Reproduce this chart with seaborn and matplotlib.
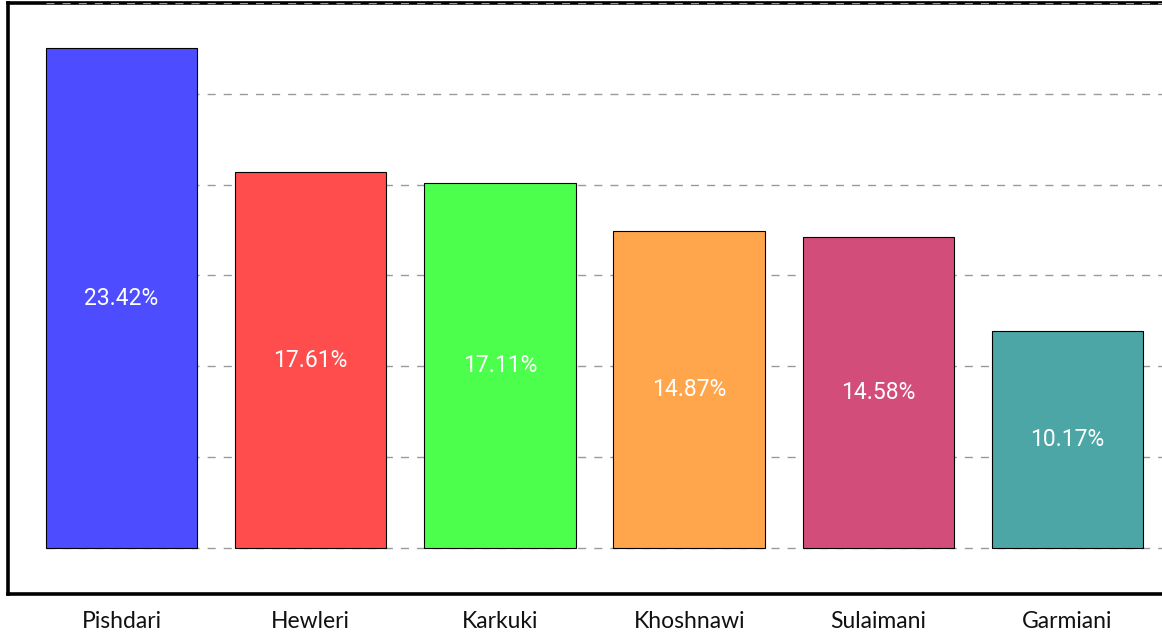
import matplotlib
matplotlib.use("Agg")
import numpy as np
import pandas as pd
import matplotlib.pyplot as plt
import seaborn as sns

# data
regions = ['Pishdari', 'Hewleri', 'Karkuki', 'Khoshnawi', 'Sulaimani', 'Garmiani']
shares = [23.42, 17.61, 17.11, 14.87, 14.58, 10.17]
bar_colors = ['#4D4DFF', '#FF4D4D', '#4DFF4D', '#FFA64D', '#D24D7A', '#4DA6A6']

df = pd.DataFrame({'Region': regions, 'Share': shares})

sns.set_style('white')
plt.rcParams['font.family'] = ['Lato', 'DejaVu Sans']

fig = plt.figure(figsize=(11.62, 6.35), dpi=100)
# axes box runs past the right edge of the figure, like the clipped original
ax = fig.add_axes([8 / 1162, 1 - 594 / 635, 1192 / 1162, 591 / 635])

sns.barplot(data=df, x='Region', y='Share', hue='Region', palette=bar_colors,
            legend=False, width=0.8, saturation=1, edgecolor='black',
            linewidth=0.8, zorder=4, ax=ax)

ax.set_xlim(-0.6, 5.7)
y_top = 25.53
ax.set_ylim(-2.155, y_top)

# dashed grid, only from the first bar's left edge onwards
for y in np.linspace(0, y_top, 7):
    ax.hlines(y, -0.4, 5.7, colors='#9a9a9a', linewidth=1.0,
              linestyles=(0, (5.8, 5.8)), zorder=3)

# value labels in the middle of each bar
for cont in ax.containers:
    ax.bar_label(cont, labels=[f'{b.get_height():.2f}%' for b in cont],
                 label_type='center', color='white', fontsize=16.5,
                 family=['Roboto', 'DejaVu Sans'], zorder=5)

for side in ['left', 'right', 'top', 'bottom']:
    ax.spines[side].set_visible(True)
    ax.spines[side].set_color('black')
    ax.spines[side].set_linewidth(2.6)

ax.set_yticks([])
ax.set_xlabel('')
ax.set_ylabel('')
ax.tick_params(axis='x', length=0, pad=12, labelsize=16.5, colors='#111111')

fig.savefig('out.png', dpi=100)
